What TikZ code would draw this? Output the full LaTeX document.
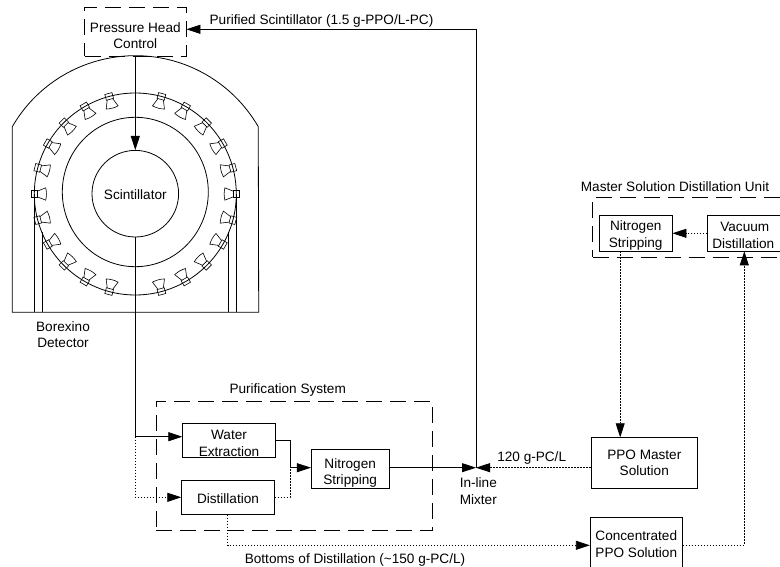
\documentclass[tikz,border=0pt]{standalone}
\usepackage{fontspec}
\setmainfont{Liberation Sans}
\usetikzlibrary{arrows.meta}
\newcommand{\drop}[1]{\rule{0pt}{\dimexpr 9.8pt+#1pt*2\relax}}
\tikzstyle{process} = [rectangle, draw=black, line width=0.8pt, inner sep=0pt, align=center]
\tikzstyle{dashbox} = [rectangle, draw=black, line width=0.8pt, dash pattern=on 16pt off 8pt, inner sep=0pt]
\tikzstyle{label} = [inner sep=0pt, align=center]
\tikzstyle{vessel} = [line width=0.8pt]
\tikzstyle{pmt} = [line width=0.6pt]
\tikzstyle{arrow} = [line width=0.8pt,-{Stealth[length=14pt,width=9pt,inset=0pt]}]
\tikzstyle{line} = [line width=0.8pt]
\tikzstyle{dotarrow} = [arrow, dash pattern=on 1.5pt off 1.5pt]
\tikzstyle{dotline} = [line, dash pattern=on 1.5pt off 1.5pt]

\begin{document}
\begin{tikzpicture}[x=1pt, y=-1pt, node distance=57pt, font=\fontsize{13.6}{16.5}\selectfont]
    \useasboundingbox (0,0) rectangle (780,567);

    % detector
    \draw [vessel] (12.3,126.7) arc (210:330:142) -- (258.7,312.3) -- (12.3,312.3) -- cycle;
    \draw [vessel] (135.3,194) circle (101);
    \draw [vessel] (135.3,192) ellipse (73 and 74.7);
    \draw [vessel] (34.3,194) -- (34.3,312.3);
    \draw [vessel] (42,232.4) -- (42,312.3);
    \draw [vessel] (236.7,194) -- (236.7,312.3);
    \draw [vessel] (228.7,232.4) -- (228.7,312.3);
    \foreach \ang in {0,15,...,75,105,120,...,255,285,300,...,345} {
      \begin{scope}[shift={(135.3,194)}, rotate=\ang]
        \draw [pmt] (98,-3.7) rectangle (104,3.7);
        \draw [pmt] (98,-2.8) -- (89.6,-6.2) .. controls (88.6,-2) and (88.6,2) .. (89.6,6.2) -- (98,2.8);
      \end{scope}
    }

    \node (head) [dashbox, minimum width=101.5pt, minimum height=49pt, align=center] at (135.3,31.5) {\drop{4}Pressure Head\\Control};
    \node (scint) [circle, draw=black, line width=0.8pt, minimum size=86.6pt, inner sep=0pt] at (135.3,193.7) {\drop{1}Scintillator};
    \node (detlabel) [label] at (63,334.5) {Borexino\\Detector};

    \node (water) [process, minimum width=92.6pt, minimum height=34pt] at (229,440.3) {\drop{3}Water\\Extraction};
    \node (dist) [process, below of=water, xshift=-1pt, minimum width=92.6pt, minimum height=33.7pt] {\drop{1}Distillation};
    \node (strip) [process, minimum width=77.7pt, minimum height=39pt] at (350.2,468.8) {\drop{4}Nitrogen\\Stripping};
    \node (pursys) [dashbox, minimum width=276.7pt, minimum height=128.7pt] at (294.3,465.7) {};
    \node (purlabel) [label] at (287.7,390.3) {Purification System};

    \coordinate (split) at (135.3,436.7);
    \coordinate (join) at (290,467.7);
    \coordinate (mixer) at (476,467.7);
    \node (mixlabel) [label] at (478.3,491) {In-line\\Mixter};

    \node (master) [process, minimum width=106.7pt, minimum height=50.3pt] at (644.3,462.8) {PPO Master\\Solution};
    \node (conc) [process, minimum width=92pt, minimum height=54pt] at (636.3,544.3) {Concentrated\\PPO Solution};
    \node (strip2) [process, minimum width=72.7pt, minimum height=35.3pt] at (635.7,233.3) {\drop{2}Nitrogen\\Stripping};
    \node (vacuum) [process, right of=strip2, xshift=52.1pt, minimum width=74.2pt, minimum height=35.3pt] {\drop{2}Vacuum\\Distillation\hspace*{3pt}};
    \node (unit) [dashbox, minimum width=196pt, minimum height=59.6pt] at (690.7,227.5) {};
    \node (unitlabel) [label] at (675,186.7) {Master Solution Distillation Unit};

    \node (purlab) [label] at (321.5,20.5) {Purified Scintillator (1.5 g-PPO/L-PC)};
    \node (masterlab) [label] at (531.7,457.5) {120 g-PC/L};
    \node (botlab) [label] at (355,560) {Bottoms of Distillation (\textasciitilde150 g-PC/L)};

    \draw [arrow] (head) -- (scint);
    \draw [line] (scint) -- (split);
    \draw [arrow] (split) -- (split -| water.west);
    \draw [dotarrow] (split) |- (dist.west);
    \draw [line] (water.east) -- (join |- water.east) -- (join);
    \draw [dotline] (dist.east) -| (join);
    \draw [arrow] (join) -- (join -| strip.west);
    \draw [arrow] (join -| strip.east) -- (mixer);
    \draw [arrow] (mixer) |- (head.east |- 0,29.3);
    \draw [dotarrow] (master.west |- mixer) -- (mixer);
    \draw [dotarrow] (strip2.south -| 620.2,0) -- (master.north -| 620.2,0);
    \draw [dotarrow] (vacuum) -- (strip2);
    \draw [dotarrow] (dist.south -| 227.7,0) |- (conc.west |- 0,545.3);
    \draw [dotarrow] (conc.east |- 0,545.3) -| (vacuum.south -| 744.3,0);

  \end{tikzpicture}
\end{document}
